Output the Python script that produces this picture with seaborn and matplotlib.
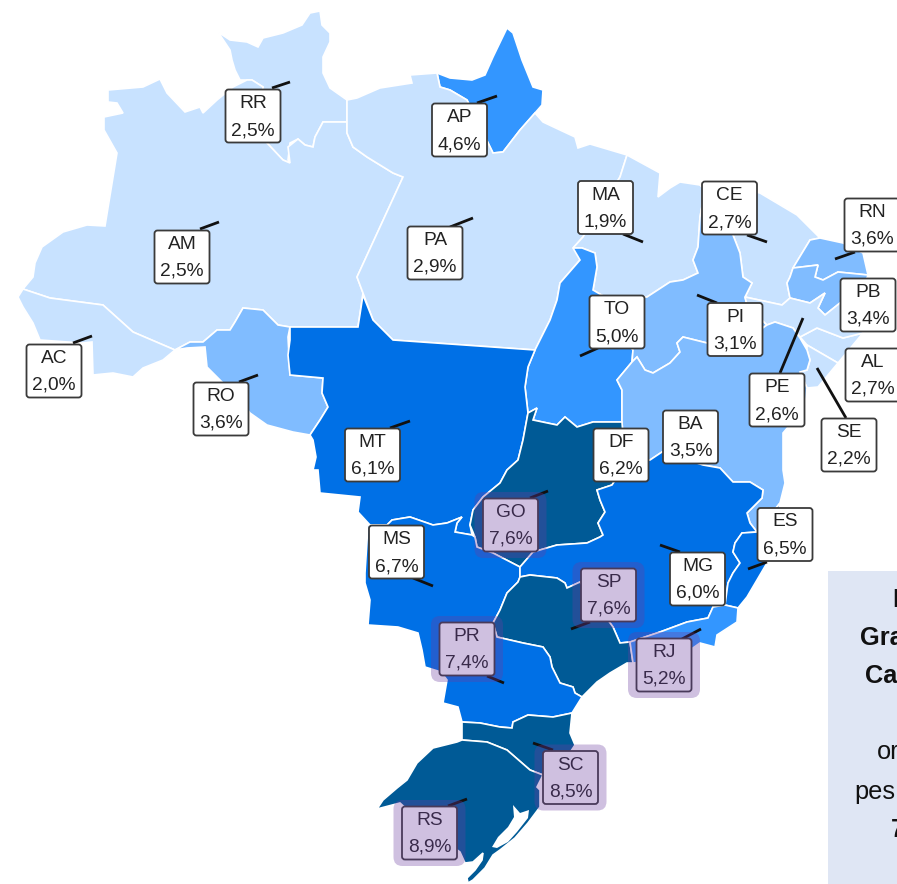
import numpy as np
import pandas as pd
import matplotlib
matplotlib.use("Agg")
import matplotlib.pyplot as plt
import seaborn as sns
from matplotlib.patches import FancyBboxPatch, Polygon, Rectangle

# State values
states = ['RR', 'AP', 'AM', 'PA', 'MA', 'CE', 'RN', 'PB', 'AC', 'TO', 'PI', 'AL', 'RO', 'PE', 'SE',
          'BA', 'DF', 'MT', 'GO', 'MS', 'MG', 'ES', 'SP', 'RJ', 'PR', 'SC', 'RS']
values = [2.5, 4.6, 2.5, 2.9, 1.9, 2.7, 3.6, 3.4, 2.0, 5.0, 3.1, 2.7, 3.6, 2.6, 2.2,
          3.5, 6.2, 6.1, 7.6, 6.7, 6.0, 6.5, 7.6, 5.2, 7.4, 8.5, 8.9]
highlighted = ['GO', 'SP', 'PR', 'RJ', 'SC', 'RS']

# Class limits and colours of the map
class_limits = [0, 3, 4, 5.5, 7.5, 10]
class_colors = ['#c8e2ff', '#80bcff', '#3396ff', '#0070e6', '#005a96']

# Label centres and leader line ends, in image pixels
label_x = [253, 459.5, 182, 435, 605.5, 729.5, 872, 868, 54, 617, 735, 873, 221, 777, 849,
           690.5, 621, 372.5, 510.5, 396.5, 697.5, 785, 608.5, 664, 467, 570.5, 429.5]
label_y = [116, 130, 257, 253, 207.5, 208, 225, 305, 371, 322, 329.5, 375, 409, 400, 445,
           437, 455, 455, 525, 552, 579, 534.5, 595, 665, 649, 777.5, 833]
leaders = {
    'RR': [(272, 88), (290, 82)], 'AP': [(477, 103), (497, 96)], 'AM': [(200, 229), (219, 222)],
    'PA': [(450, 227), (473, 218)], 'MA': [(623, 234), (643, 242)], 'CE': [(747, 235), (767, 242)],
    'RN': [(855, 252), (835, 259)], 'AC': [(73, 343), (92, 336)], 'TO': [(598, 348), (580, 356)],
    'PI': [(717, 303), (697, 295)], 'RO': [(239, 382), (258, 375)], 'PE': [(780, 373), (803, 318)],
    'SE': [(846, 418), (817, 368)], 'MT': [(390, 428), (410, 421)], 'GO': [(530, 498), (548, 491)],
    'MS': [(413, 578), (433, 586)], 'MG': [(680, 552), (660, 545)], 'ES': [(767, 562), (748, 569)],
    'SP': [(590, 622), (571, 629)], 'RJ': [(682, 639), (701, 629)], 'PR': [(487, 676), (504, 683)],
    'SC': [(553, 750), (533, 743)], 'RS': [(448, 806), (467, 799)],
}

# Fragments of the side panel text that fit in the picture
panel_text = ['E', 'Gra', 'Ca', 'or', 'pes', '7']
panel_x = [892, 860, 865, 877, 854, 891]
panel_y = [600, 638, 676, 752, 792, 830]
panel_weight = ['bold', 'bold', 'bold', 'normal', 'normal', 'bold']

# State outlines, in image pixels
outlines = {
    'RR': [(218, 32), (230, 40), (247, 42), (258, 47), (263, 38), (283, 33), (302, 25), (310, 13), (320, 11),
           (322, 25), (330, 33), (330, 42), (323, 57), (323, 73), (330, 88), (347, 100), (347, 122), (323, 122),
           (315, 137), (313, 147), (305, 145), (298, 139), (290, 143), (288, 160), (290, 163), (283, 160),
           (267, 143), (257, 133), (263, 87), (252, 80), (240, 80), (235, 70), (232, 60), (230, 50)],
    'AM': [(108, 90), (143, 87), (160, 79), (167, 93), (185, 112), (200, 107), (203, 113), (217, 100), (233, 87),
           (247, 80), (252, 80), (263, 87), (257, 133), (267, 143), (283, 160), (290, 163), (288, 147), (298, 139),
           (305, 145), (313, 147), (315, 137), (323, 122), (347, 122), (347, 133), (353, 147), (367, 157),
           (393, 173), (403, 177), (357, 277), (363, 293), (358, 327), (290, 327), (278, 325), (263, 310),
           (243, 308), (235, 322), (230, 330), (217, 330), (203, 342), (190, 342), (175, 350), (133, 332),
           (103, 305), (50, 298), (23, 289), (33, 277), (35, 263), (42, 247), (63, 232), (87, 225), (105, 226),
           (117, 153), (104, 130), (104, 117), (123, 113), (117, 103), (108, 102)],
    'AC': [(23, 289), (50, 298), (103, 305), (133, 332), (175, 350), (163, 360), (143, 368), (133, 377),
           (113, 373), (93, 375), (92, 342), (82, 343), (40, 340), (33, 323), (23, 307), (18, 297)],
    'RO': [(175, 350), (190, 342), (203, 342), (217, 330), (230, 330), (235, 322), (243, 308), (263, 310),
           (278, 325), (290, 327), (288, 337), (290, 375), (323, 378), (322, 393), (328, 407), (320, 420),
           (310, 435), (293, 432), (267, 425), (250, 413), (240, 400), (207, 367), (205, 347), (187, 348)],
    'MT': [(290, 327), (358, 327), (363, 295), (373, 320), (383, 330), (393, 340), (535, 350), (528, 367),
           (525, 387), (528, 413), (523, 440), (518, 460), (507, 470), (500, 483), (483, 497), (473, 510),
           (470, 525), (472, 535), (455, 532), (457, 523), (462, 517), (447, 523), (433, 525), (410, 517),
           (392, 520), (387, 525), (370, 525), (358, 512), (360, 497), (320, 493), (318, 470), (313, 470),
           (316, 457), (313, 440), (310, 435), (320, 420), (328, 407), (322, 393), (323, 378), (290, 375),
           (288, 355), (290, 340)],
    'PA': [(347, 100), (347, 122), (347, 133), (353, 147), (367, 157), (393, 173), (403, 177), (357, 277),
           (363, 293), (373, 320), (383, 330), (393, 340), (535, 350), (550, 320), (557, 300), (560, 283),
           (580, 260), (582, 252), (573, 248), (583, 237), (620, 177), (627, 155), (590, 144), (578, 148),
           (575, 137), (560, 130), (543, 122), (535, 113), (520, 130), (503, 152), (493, 153), (467, 100),
           (450, 90), (440, 87), (437, 73), (410, 75), (412, 83), (380, 88), (357, 98)],
    'AP': [(437, 73), (440, 87), (450, 90), (467, 100), (493, 153), (503, 152), (520, 130), (535, 113), (542, 105),
           (543, 90), (533, 87), (522, 60), (513, 33), (507, 28), (493, 57), (485, 75), (472, 80), (450, 78)],
    'MA': [(627, 155), (660, 173), (658, 197), (670, 188), (680, 182), (700, 185), (705, 190), (700, 217),
           (698, 247), (693, 260), (698, 273), (683, 280), (670, 282), (647, 297), (610, 300), (593, 290),
           (597, 267), (595, 253), (582, 248), (573, 248), (583, 237), (620, 177)],
    'PI': [(705, 190), (733, 235), (740, 253), (743, 277), (752, 283), (745, 297), (747, 305), (767, 325), (750, 337),
           (707, 343), (683, 337), (677, 343), (680, 352), (670, 363), (653, 373), (645, 370), (637, 357),
           (632, 362), (633, 350), (620, 330), (610, 300), (647, 297), (670, 282), (683, 280), (698, 273),
           (693, 260), (698, 247), (700, 217)],
    'TO': [(582, 248), (573, 248), (580, 260), (560, 283), (557, 300), (550, 320), (535, 350), (528, 367),
           (525, 387), (528, 413), (537, 408), (533, 420), (557, 425), (565, 417), (577, 427), (593, 422),
           (622, 422), (622, 390), (617, 380), (632, 362), (633, 350), (620, 330), (610, 300), (593, 290),
           (597, 267), (595, 253)],
    'CE': [(700, 185), (725, 185), (760, 193), (797, 215), (820, 238), (810, 240), (793, 268), (790, 277),
           (787, 283), (790, 298), (782, 305), (745, 297), (752, 283), (743, 277), (740, 253), (733, 235), (705, 190)],
    'RN': [(820, 238), (810, 240), (793, 268), (818, 265), (815, 277), (823, 280), (838, 272), (868, 275),
           (863, 253), (843, 243)],
    'PB': [(790, 277), (793, 268), (818, 265), (815, 277), (823, 280), (838, 272), (868, 275), (860, 300),
           (840, 303), (825, 315), (818, 308), (825, 293), (810, 303), (790, 298), (787, 283)],
    'PE': [(745, 297), (782, 305), (790, 298), (810, 303), (825, 293), (818, 308), (825, 315), (840, 303),
           (860, 300), (863, 333), (843, 338), (817, 328), (800, 337), (793, 328), (775, 322), (767, 325), (747, 305)],
    'AL': [(800, 337), (817, 328), (843, 338), (863, 333), (838, 363), (807, 345)],
    'SE': [(807, 345), (838, 363), (818, 387), (807, 388), (800, 372), (807, 370), (810, 360), (807, 350)],
    'BA': [(622, 422), (622, 390), (617, 380), (632, 362), (637, 357), (645, 370), (653, 373), (670, 363),
           (680, 352), (677, 343), (683, 337), (707, 343), (750, 337), (767, 325), (775, 322), (793, 328),
           (800, 338), (807, 350), (810, 360), (807, 370), (800, 372), (807, 388), (805, 407), (783, 433),
           (783, 470), (785, 483), (780, 503), (757, 532), (750, 523), (747, 513), (762, 498), (763, 490),
           (750, 482), (733, 482), (720, 468), (703, 465), (662, 452), (650, 460), (625, 465)],
    'GO': [(528, 413), (537, 408), (533, 420), (557, 425), (565, 417), (577, 427), (593, 422), (622, 422),
           (625, 465), (612, 485), (597, 490), (600, 500), (605, 512), (598, 523), (603, 535), (600, 537),
           (587, 543), (557, 545), (533, 552), (520, 567), (493, 553), (477, 547), (475, 537), (470, 525),
           (473, 510), (483, 497), (500, 483), (507, 470), (518, 460), (523, 440)],
    'DF': [(580, 478), (612, 478), (612, 490), (580, 490)],
    'MS': [(472, 535), (455, 532), (457, 523), (462, 517), (447, 523), (433, 525), (410, 517), (392, 520),
           (387, 525), (370, 525), (368, 525), (365, 573), (365, 583), (370, 600), (368, 625), (398, 627),
           (418, 633), (422, 650), (425, 667), (441, 672), (493, 623), (500, 610), (507, 593), (518, 582),
           (520, 577), (520, 567), (493, 553), (477, 547), (475, 537)],
    'MG': [(597, 490), (612, 485), (625, 465), (650, 460), (662, 452), (703, 465), (720, 468), (733, 482),
           (750, 482), (763, 490), (762, 498), (747, 513), (750, 523), (757, 532), (742, 533), (735, 543),
           (733, 552), (740, 563), (733, 573), (728, 583), (725, 605), (713, 607), (708, 618), (687, 622),
           (660, 632), (630, 642), (620, 643), (613, 627), (580, 582), (567, 588), (565, 583), (557, 578),
           (530, 575), (520, 577), (520, 567), (533, 552), (557, 545), (587, 543), (600, 537), (603, 535),
           (598, 523), (605, 512), (600, 500)],
    'ES': [(757, 532), (780, 503), (775, 535), (767, 563), (757, 580), (747, 597), (738, 608), (725, 605),
           (728, 583), (733, 573), (740, 563), (733, 552), (735, 543), (742, 533)],
    'RJ': [(630, 642), (660, 632), (687, 622), (708, 618), (713, 607), (725, 605), (738, 608), (737, 622),
           (717, 635), (715, 647), (700, 643), (690, 650), (660, 660), (633, 663)],
    'SP': [(520, 577), (530, 575), (557, 578), (565, 583), (567, 588), (580, 582), (613, 627), (620, 643),
           (630, 642), (633, 663), (627, 663), (610, 673), (597, 682), (582, 697), (575, 693),
           (573, 687), (560, 683), (552, 667), (550, 657), (543, 647), (523, 643), (497, 637), (493, 623),
           (500, 610), (507, 593), (518, 582)],
    'PR': [(493, 623), (497, 637), (523, 643), (543, 647), (550, 657), (552, 667), (560, 683), (573, 687),
           (575, 693), (582, 697), (572, 713), (553, 717), (528, 715), (513, 722), (512, 728), (500, 727),
           (480, 723), (462, 722), (458, 707), (443, 703), (447, 680), (441, 672)],
    'SC': [(462, 722), (480, 723), (500, 727), (512, 728), (513, 722), (528, 715), (553, 717), (572, 713),
           (570, 733), (575, 745), (565, 760), (555, 775), (543, 775), (530, 770), (507, 750), (487, 742), (462, 740)],
    'RS': [(462, 740), (487, 742), (507, 750), (530, 770), (543, 775), (537, 787), (540, 790), (540, 807),
           (528, 823), (515, 838), (500, 850), (493, 855), (485, 868), (473, 880), (468, 883), (467, 878),
           (475, 870), (482, 860), (483, 853), (473, 862), (465, 863), (460, 852), (430, 830), (400, 803),
           (377, 809), (383, 800), (397, 788), (407, 780), (417, 763), (433, 748), (457, 742)],
}
lagoon = [(513, 805), (520, 813), (529, 810), (528, 818), (517, 832), (508, 842), (497, 848), (492, 847),
          (498, 837), (508, 827), (514, 817)]

df = pd.DataFrame({'state': states, 'value': values, 'x': label_x, 'y': label_y})
df['color'] = pd.cut(df['value'], class_limits, labels=class_colors).astype(str)

sns.set_theme(style="white")
plt.rcParams['font.family'] = ['Liberation Sans', 'DejaVu Sans']

fig, ax = plt.subplots(figsize=(8.97, 8.84), dpi=100)
ax.set_position([0, 0, 1, 1])
ax.set_xlim(0, 897)
ax.set_ylim(884, 0)
ax.axis('off')

# States
for _, row in df.iterrows():
    ax.add_patch(Polygon(outlines[row['state']], closed=True, facecolor=row['color'],
                         edgecolor='white', linewidth=1.2, zorder=1))
ax.add_patch(Polygon(lagoon, closed=True, facecolor='white', edgecolor='none', zorder=2))

# Side panel, its text runs off the right edge
ax.add_patch(Rectangle((828, 571), 69, 313, facecolor='#dfe6f4', edgecolor='none', zorder=2))
for txt, x, y, weight in zip(panel_text, panel_x, panel_y, panel_weight):
    ax.text(x, y, txt, ha='left', va='center', fontsize=18.3, fontweight=weight, color='#111111', zorder=3)

# Labels
box_w, box_h = 55, 53
for _, row in df.iterrows():
    x, y = row['x'], row['y']
    if row['state'] in leaders:
        (x0, y0), (x1, y1) = leaders[row['state']]
        ax.plot([x0, x1], [y0, y1], color='#111111', linewidth=2, solid_capstyle='butt', zorder=3)
    ax.add_patch(FancyBboxPatch((x - box_w / 2 + 3, y - box_h / 2 + 3), box_w - 6, box_h - 6,
                                boxstyle='round,pad=3,rounding_size=3', facecolor='white',
                                edgecolor='#3a3a3a', linewidth=1.3, zorder=4))
    ax.text(x, y - 12.5, row['state'], ha='center', va='center', fontsize=13.8, color='#222222', zorder=5)
    ax.text(x, y + 14.5, f"{row['value']:.1f}%".replace('.', ','), ha='center', va='center',
            fontsize=13.8, color='#222222', zorder=5)

# Purple highlight goes over the label too
for _, row in df[df['state'].isin(highlighted)].iterrows():
    ax.add_patch(FancyBboxPatch((row['x'] - 27, row['y'] - 24), 54, 48,
                                boxstyle='round,pad=9,rounding_size=9', facecolor='#6a3ca0',
                                edgecolor='none', alpha=0.32, zorder=6))

plt.savefig('out.png', dpi=100)
